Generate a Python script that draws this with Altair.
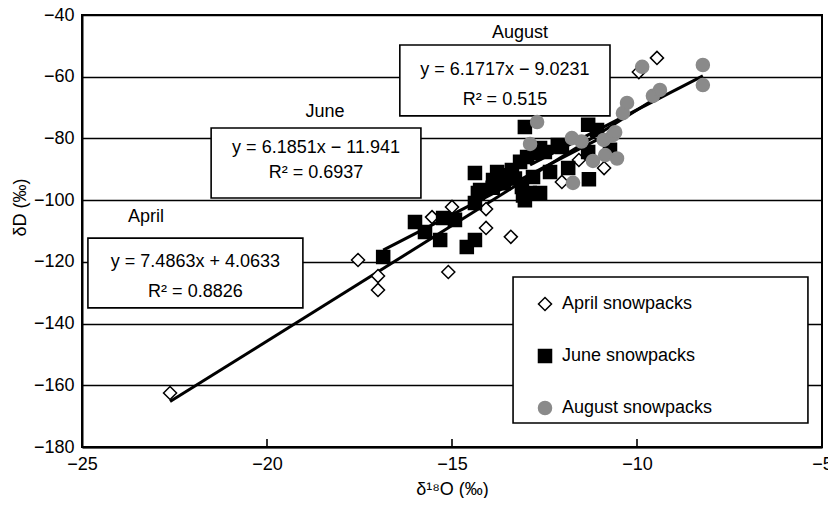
import altair as alt
import pandas as pd

# ---- data ----
april_x = [-22.62, -17.54, -17.0, -17.0, -15.54, -15.0, -15.1, -14.08, -13.41, -14.08,
           -12.03, -11.57, -10.89, -9.46, -9.95]
april_y = [-162.5, -119.4, -124.6, -129.1, -105.5, -102.2, -123.3, -109.0, -111.9, -102.9,
           -94.1, -87.0, -89.6, -53.9, -58.5]

june_x = [-16.86, -16.0, -15.73, -15.32, -15.24, -14.92, -14.6, -14.38, -14.38, -14.3,
          -14.38, -14.24, -13.89, -13.78, -13.5, -13.38, -13.03, -12.9, -13.08, -13.11,
          -12.62, -12.81, -12.35, -11.86, -13.03, -13.16, -12.97, -12.76, -12.49, -12.03,
          -12.62, -12.14, -11.32, -11.08, -10.73, -11.32, -11.3, -13.6, -13.3, -13.9]
june_y = [-118.4, -107.1, -110.3, -112.9, -105.8, -106.4, -115.2, -112.9, -100.9, -97.7,
          -91.2, -96.7, -93.5, -90.9, -91.9, -90.2, -100.0, -97.7, -98.5, -95.7,
          -97.7, -92.5, -90.9, -89.6, -76.3, -87.6, -86.0, -84.7, -84.4, -82.8,
          -83.1, -82.1, -75.6, -77.3, -83.7, -84.4, -93.2, -94.5, -93.0, -96.0]

aug_x = [-12.7, -12.89, -11.76, -10.65, -10.59, -10.86, -10.54, -11.19, -11.73, -10.38,
         -10.27, -9.57, -9.38, -9.86, -8.22, -8.22, -11.5, -10.9]
aug_y = [-74.7, -81.8, -79.9, -78.9, -78.0, -85.4, -86.5, -87.3, -94.4, -71.8,
         -68.5, -66.2, -64.3, -56.8, -56.2, -62.7, -81.0, -80.5]

series_names = ["April snowpacks", "June snowpacks", "August snowpacks"]
slopes = [7.4863, 6.1851, 6.1717]
intercepts = [4.0633, -11.941, -9.0231]
eq_lines = ["y = 7.4863x + 4.0633", "y = 6.1851x \u2212 11.941", "y = 6.1717x \u2212 9.0231"]
r2_lines = ["R\u00b2 = 0.8826", "R\u00b2 = 0.6937", "R\u00b2 = 0.515"]
month_labels = ["April", "June", "August"]

x_ticks = [-20, -15, -10]

# ---- annotation layout (box corners, label positions in data units) ----
box_x = [-24.84, -21.51, -16.41]
box_x2 = [-19.03, -15.84, -10.73]
box_y = [-112.3, -76.6, -49.7]
box_y2 = [-134.9, -99.3, -72.7]
eq_y = [-120.0, -83.1, -57.8]
r2_y = [-129.8, -91.2, -67.5]
month_x = [-23.27, -18.43, -13.16]
month_y = [-105.5, -71.4, -45.8]
legend_box = dict(x=-13.35, x2=-5.38, y=-124.9, y2=-172.2)

FONT = "Liberation Sans"
FS = 18

pts = pd.concat([
    pd.DataFrame({"x": april_x, "y": april_y, "series": series_names[0]}),
    pd.DataFrame({"x": june_x, "y": june_y, "series": series_names[1]}),
    pd.DataFrame({"x": aug_x, "y": aug_y, "series": series_names[2]}),
], ignore_index=True)

xs_all = [april_x, june_x, aug_x]
line_rows = []
for i, name in enumerate(series_names):
    for xv in (min(xs_all[i]), max(xs_all[i])):
        line_rows.append({"series": name, "x": xv, "y": slopes[i] * xv + intercepts[i]})
lines_df = pd.DataFrame(line_rows)

boxes = pd.DataFrame({"x": box_x + [legend_box["x"]], "x2": box_x2 + [legend_box["x2"]],
                      "y": box_y + [legend_box["y"]], "y2": box_y2 + [legend_box["y2"]]})
texts = pd.DataFrame({
    "x": [(a + b) / 2 for a, b in zip(box_x, box_x2)] * 2 + month_x,
    "y": eq_y + r2_y + month_y,
    "t": eq_lines + r2_lines + month_labels,
})
ticks_df = pd.DataFrame({"x": x_ticks})

xscale = alt.Scale(domain=[-25, -5], nice=False, zero=False)
yscale = alt.Scale(domain=[-180, -40], nice=False, zero=False)

xaxis = alt.Axis(values=[-25, -20, -15, -10, -5], grid=False, ticks=False, labelPadding=8,
                 labelFlush=False, labelOverlap=False,
                 labelExpr="replace(datum.label, '-', '\u2212')",
                 title="\u03b4\u00b9\u2078O (\u2030)", titleY=42, titleBaseline="middle")
yaxis = alt.Axis(values=[-180, -160, -140, -120, -100, -80, -60, -40], grid=True,
                 ticks=False, labelPadding=8, labelFlush=False, labelOverlap=False,
                 labelExpr="replace(datum.label, '-', '\u2212')",
                 title="\u03b4D (\u2030)", titleX=-62, titleY=192, titleAngle=270,
                 titleAlign="center", titleBaseline="middle")

base_x = alt.X("x:Q", scale=xscale, axis=xaxis)
base_y = alt.Y("y:Q", scale=yscale, axis=yaxis)

rects = alt.Chart(boxes).mark_rect(fill="white", stroke="black", strokeWidth=1.6).encode(
    x=base_x, x2="x2:Q", y=base_y, y2="y2:Q")

reg = alt.Chart(lines_df).mark_line(color="black", strokeWidth=3).encode(
    x=base_x, y=base_y, detail="series:N")

legend = alt.Legend(title=None)
points = alt.Chart(pts).mark_point(size=170, opacity=1, strokeWidth=1.5).encode(
    x=base_x, y=base_y,
    shape=alt.Shape("series:N", sort=series_names, legend=legend,
                    scale=alt.Scale(domain=series_names, range=["diamond", "square", "circle"])),
    fill=alt.Fill("series:N", sort=series_names, legend=legend,
                  scale=alt.Scale(domain=series_names, range=["white", "black", "#8a8a8a"])),
    stroke=alt.Stroke("series:N", sort=series_names, legend=legend,
                      scale=alt.Scale(domain=series_names, range=["black", "black", "#8a8a8a"])),
)

labels = alt.Chart(texts).mark_text(font=FONT, fontSize=FS, color="black",
                                    align="center", baseline="middle").encode(
    x=base_x, y=base_y, text="t:N")

ticks = alt.Chart(ticks_df).mark_rule(color="black", strokeWidth=1.6).encode(
    x=base_x, y=alt.datum(-180), y2=alt.datum(-177.4))

chart = alt.layer(rects, reg, points, labels, ticks).properties(
    width=740, height=432,
    autosize=alt.AutoSizeParams(type="none"),
    padding={"left": 74, "top": 7, "right": 6, "bottom": 51},
).configure_view(stroke="black", strokeWidth=2).configure_axis(
    labelFont=FONT, labelFontSize=FS, labelColor="black",
    titleFont=FONT, titleFontSize=FS, titleColor="black", titleFontWeight="normal",
    domainColor="black", domainWidth=2, gridColor="black", gridWidth=1.5, gridOpacity=1,
).configure_legend(
    orient="none", legendX=454, legendY=280, padding=0, rowPadding=32,
    labelFont=FONT, labelFontSize=FS, labelColor="black", labelOffset=8,
    symbolSize=170, symbolStrokeWidth=1.5, symbolOpacity=1,
)

chart.save("out.html", embed_options={"renderer": "svg", "actions": False})
